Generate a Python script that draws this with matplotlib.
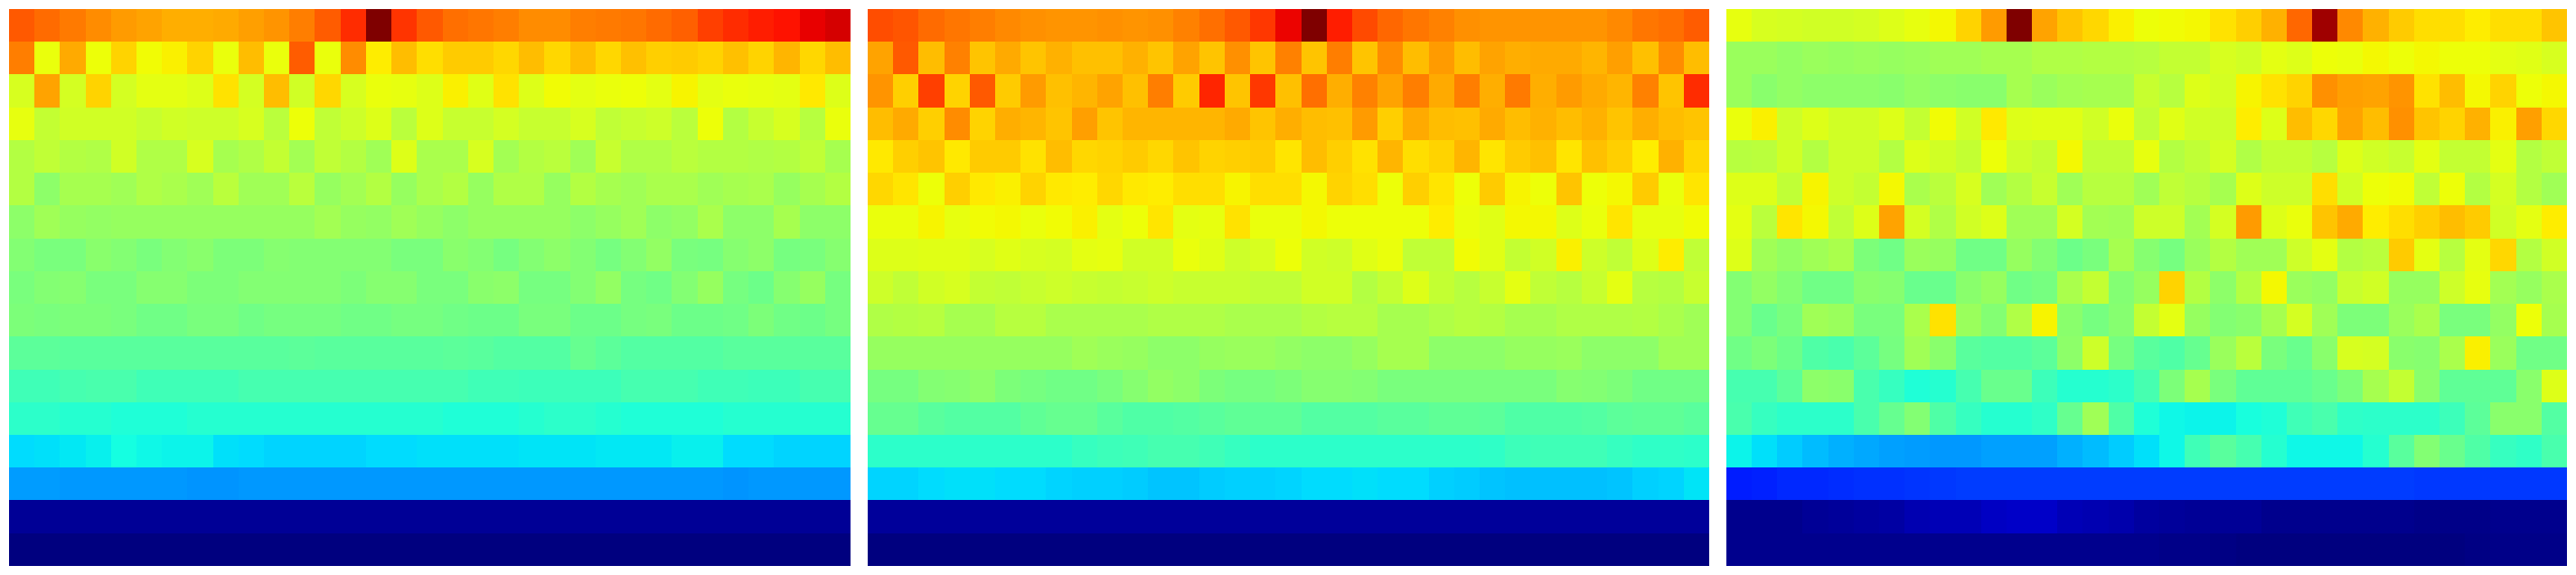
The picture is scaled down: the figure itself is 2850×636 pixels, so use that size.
import numpy as np
from matplotlib import pyplot as plt

# values, 0-1000 on the jet scale, top row first
panel_left = [
    [815, 795, 780, 760, 745, 735, 725, 725, 730, 740, 750, 775, 810, 860, 1000, 855, 815, 790, 785, 775, 760, 760, 775, 780, 785, 795, 805, 840, 860, 875, 890, 910, 925],
    [775, 634, 730, 638, 685, 642, 654, 685, 634, 710, 634, 810, 634, 760, 658, 710, 675, 695, 695, 680, 710, 680, 710, 680, 705, 690, 695, 685, 705, 685, 715, 680, 710],
    [613, 735, 608, 685, 608, 626, 626, 618, 670, 608, 710, 603, 680, 613, 634, 630, 618, 654, 622, 670, 618, 642, 626, 634, 638, 626, 650, 626, 634, 630, 626, 662, 618],
    [630, 588, 603, 603, 603, 593, 603, 598, 598, 613, 578, 638, 583, 598, 618, 578, 618, 593, 593, 608, 593, 593, 613, 583, 593, 598, 578, 638, 568, 593, 613, 573, 634],
    [568, 583, 568, 563, 603, 563, 563, 613, 553, 563, 588, 548, 583, 568, 543, 618, 558, 558, 613, 548, 568, 578, 543, 593, 563, 563, 578, 568, 568, 563, 568, 583, 553],
    [568, 523, 553, 553, 543, 563, 558, 543, 578, 543, 543, 578, 533, 548, 568, 533, 558, 568, 533, 563, 563, 533, 568, 553, 543, 558, 558, 543, 553, 558, 533, 553, 568],
    [523, 543, 533, 528, 533, 533, 533, 533, 533, 533, 533, 533, 548, 533, 528, 543, 533, 523, 533, 533, 533, 533, 523, 533, 543, 523, 528, 558, 523, 523, 553, 523, 523],
    [508, 498, 498, 518, 508, 498, 508, 518, 503, 503, 513, 508, 508, 508, 508, 498, 498, 518, 508, 493, 508, 523, 508, 493, 508, 528, 498, 493, 513, 523, 493, 498, 513],
    [498, 508, 513, 498, 498, 513, 513, 503, 503, 508, 508, 508, 508, 503, 513, 513, 498, 498, 518, 523, 493, 493, 508, 528, 493, 488, 508, 533, 493, 483, 513, 533, 493],
    [503, 498, 503, 503, 498, 488, 488, 498, 498, 488, 493, 493, 493, 488, 488, 493, 493, 488, 483, 483, 498, 498, 483, 483, 493, 498, 483, 483, 488, 503, 488, 483, 493],
    [463, 463, 458, 458, 458, 458, 458, 458, 458, 458, 458, 463, 458, 458, 458, 458, 458, 463, 458, 452, 452, 452, 473, 463, 452, 452, 452, 452, 458, 458, 458, 458, 458],
    [428, 428, 434, 440, 440, 428, 428, 428, 428, 434, 434, 434, 434, 434, 434, 434, 434, 434, 428, 428, 422, 422, 422, 422, 434, 434, 434, 428, 428, 422, 422, 434, 434],
    [404, 404, 398, 398, 390, 390, 390, 398, 398, 398, 398, 398, 398, 398, 398, 398, 398, 390, 390, 390, 398, 404, 404, 398, 390, 390, 390, 390, 398, 398, 398, 398, 398],
    [340, 345, 355, 360, 375, 370, 365, 365, 345, 340, 335, 335, 335, 335, 340, 340, 345, 345, 345, 345, 350, 350, 350, 355, 355, 355, 360, 360, 340, 340, 335, 335, 335],
    [280, 280, 275, 275, 275, 275, 275, 270, 270, 275, 275, 275, 275, 275, 275, 275, 275, 275, 275, 275, 275, 275, 275, 275, 275, 275, 275, 275, 270, 275, 275, 275, 275],
    [20, 20, 20, 20, 20, 20, 20, 20, 20, 20, 20, 20, 20, 20, 20, 20, 20, 20, 20, 20, 20, 20, 20, 20, 20, 20, 20, 20, 20, 20, 20, 20, 20],
    [0, 0, 0, 0, 0, 0, 0, 0, 0, 0, 0, 0, 0, 0, 0, 0, 0, 0, 0, 0, 0, 0, 0, 0, 0, 0, 0, 0, 0, 0, 0, 0, 0],
]

panel_middle = [
    [825, 820, 795, 785, 775, 765, 755, 750, 750, 755, 750, 755, 770, 790, 815, 850, 905, 1000, 875, 830, 800, 785, 770, 755, 750, 750, 750, 750, 750, 765, 785, 790, 810],
    [735, 815, 710, 770, 700, 730, 700, 720, 705, 705, 720, 700, 735, 700, 755, 700, 770, 700, 775, 700, 760, 710, 745, 710, 735, 725, 730, 730, 715, 740, 705, 760, 710],
    [750, 690, 840, 685, 815, 695, 745, 705, 715, 735, 705, 775, 695, 870, 700, 850, 705, 790, 725, 770, 735, 775, 730, 775, 725, 780, 725, 745, 730, 715, 770, 700, 860],
    [710, 730, 690, 760, 685, 725, 715, 700, 740, 700, 715, 715, 715, 715, 730, 700, 725, 710, 705, 745, 690, 730, 710, 705, 730, 710, 720, 710, 720, 700, 725, 710, 700],
    [662, 690, 700, 662, 695, 695, 670, 710, 680, 685, 695, 680, 700, 685, 690, 695, 666, 710, 690, 670, 715, 675, 685, 715, 666, 695, 705, 666, 705, 690, 658, 720, 680],
    [680, 666, 638, 690, 662, 654, 685, 662, 658, 680, 662, 658, 675, 675, 650, 675, 675, 646, 685, 675, 638, 690, 666, 638, 695, 650, 638, 700, 638, 646, 695, 634, 666],
    [634, 634, 650, 630, 642, 646, 634, 642, 654, 626, 638, 666, 626, 630, 670, 634, 634, 646, 638, 638, 638, 638, 658, 634, 622, 646, 646, 618, 634, 666, 630, 630, 642],
    [618, 618, 622, 622, 613, 622, 613, 608, 626, 630, 603, 603, 634, 622, 598, 613, 638, 603, 598, 622, 634, 583, 583, 642, 622, 588, 603, 654, 598, 583, 618, 658, 583],
    [598, 583, 603, 613, 588, 583, 593, 598, 593, 588, 593, 598, 593, 593, 593, 583, 583, 603, 603, 568, 588, 618, 588, 573, 593, 626, 583, 573, 593, 626, 573, 568, 593],
    [563, 568, 573, 553, 553, 573, 573, 558, 558, 558, 558, 563, 563, 563, 558, 558, 558, 568, 573, 573, 553, 553, 563, 573, 568, 553, 553, 563, 563, 563, 568, 558, 543],
    [533, 533, 533, 533, 533, 533, 533, 533, 543, 538, 533, 523, 523, 533, 538, 538, 528, 523, 523, 533, 553, 553, 523, 523, 523, 533, 533, 538, 523, 523, 523, 543, 543],
    [493, 493, 508, 513, 523, 503, 493, 488, 488, 498, 513, 528, 523, 503, 493, 493, 503, 513, 513, 508, 498, 498, 498, 498, 498, 498, 498, 513, 508, 503, 488, 488, 488],
    [473, 473, 458, 452, 452, 452, 468, 473, 473, 458, 446, 446, 452, 458, 468, 468, 468, 452, 452, 452, 458, 458, 468, 468, 463, 446, 446, 446, 452, 463, 468, 468, 458],
    [404, 404, 404, 404, 404, 404, 404, 404, 416, 422, 428, 434, 434, 428, 416, 404, 404, 404, 404, 404, 404, 404, 404, 404, 410, 422, 428, 428, 428, 416, 410, 410, 404],
    [335, 335, 340, 345, 345, 340, 340, 335, 330, 330, 325, 320, 320, 325, 330, 330, 335, 340, 340, 345, 340, 340, 330, 325, 320, 315, 315, 315, 315, 320, 330, 335, 350],
    [25, 25, 25, 25, 25, 25, 25, 25, 25, 25, 25, 25, 25, 25, 25, 25, 25, 25, 25, 25, 25, 25, 25, 25, 25, 25, 25, 25, 25, 25, 25, 25, 25],
    [0, 0, 0, 0, 0, 0, 0, 0, 0, 0, 0, 0, 0, 0, 0, 0, 0, 0, 0, 0, 0, 0, 0, 0, 0, 0, 0, 0, 0, 0, 0, 0, 0],
]

panel_right = [
    [630, 613, 608, 603, 603, 608, 618, 630, 646, 685, 745, 1000, 735, 700, 680, 654, 638, 642, 646, 670, 690, 720, 800, 970, 765, 720, 695, 675, 675, 658, 675, 675, 700],
    [538, 538, 528, 538, 533, 538, 533, 538, 543, 543, 553, 553, 563, 563, 568, 568, 573, 588, 588, 613, 603, 626, 618, 638, 634, 646, 638, 646, 638, 638, 626, 622, 613],
    [538, 518, 528, 523, 523, 523, 518, 528, 523, 518, 518, 553, 538, 548, 553, 553, 593, 573, 618, 608, 650, 670, 685, 755, 740, 735, 750, 670, 710, 646, 685, 638, 646],
    [634, 654, 598, 618, 603, 603, 618, 588, 642, 603, 662, 618, 622, 622, 603, 634, 583, 622, 603, 598, 658, 618, 710, 680, 735, 710, 755, 700, 685, 720, 654, 740, 680],
    [573, 578, 603, 568, 598, 598, 568, 618, 603, 588, 638, 598, 588, 646, 583, 583, 630, 568, 583, 608, 563, 588, 588, 573, 618, 603, 593, 626, 588, 588, 626, 568, 583],
    [618, 618, 583, 650, 598, 588, 646, 558, 578, 613, 543, 568, 593, 543, 573, 573, 543, 583, 573, 553, 618, 598, 598, 675, 603, 638, 642, 583, 638, 568, 608, 568, 543],
    [626, 578, 666, 646, 583, 618, 735, 608, 563, 603, 618, 543, 543, 608, 548, 543, 598, 598, 548, 608, 745, 618, 634, 700, 730, 658, 675, 690, 710, 695, 603, 626, 658],
    [618, 543, 528, 543, 558, 503, 488, 538, 533, 488, 488, 533, 508, 483, 498, 553, 513, 493, 538, 568, 543, 543, 598, 626, 568, 578, 695, 626, 573, 626, 680, 568, 603],
    [508, 528, 508, 488, 488, 518, 513, 478, 478, 518, 533, 488, 493, 558, 588, 508, 533, 685, 568, 523, 568, 646, 538, 528, 593, 603, 533, 533, 598, 630, 548, 533, 558],
    [508, 478, 498, 543, 538, 498, 498, 558, 670, 538, 508, 563, 650, 518, 493, 513, 588, 626, 533, 508, 518, 553, 608, 543, 503, 503, 538, 558, 498, 498, 528, 638, 553],
    [488, 503, 483, 446, 440, 463, 493, 543, 518, 458, 452, 452, 463, 523, 598, 493, 458, 446, 473, 538, 578, 498, 478, 518, 613, 608, 518, 513, 558, 654, 538, 488, 488],
    [434, 434, 463, 523, 518, 440, 416, 390, 398, 434, 478, 478, 422, 398, 398, 404, 434, 503, 553, 498, 468, 468, 468, 478, 503, 553, 588, 518, 468, 468, 468, 518, 618],
    [440, 416, 404, 404, 404, 440, 473, 508, 446, 416, 398, 398, 410, 473, 543, 446, 390, 370, 365, 365, 380, 390, 428, 440, 410, 404, 404, 404, 422, 463, 518, 518, 452],
    [365, 345, 325, 310, 300, 290, 285, 280, 275, 275, 285, 285, 285, 300, 310, 325, 345, 370, 428, 458, 434, 398, 370, 370, 370, 398, 458, 508, 478, 446, 416, 410, 440],
    [155, 160, 165, 165, 170, 175, 175, 178, 180, 185, 185, 185, 185, 185, 185, 185, 185, 185, 185, 185, 185, 185, 185, 185, 185, 185, 185, 182, 182, 182, 182, 182, 182],
    [15, 15, 15, 20, 25, 30, 35, 45, 50, 50, 60, 65, 65, 50, 45, 40, 30, 25, 20, 20, 20, 15, 15, 15, 15, 15, 15, 10, 10, 10, 15, 15, 15],
    [12, 12, 12, 12, 12, 12, 12, 12, 12, 12, 12, 12, 12, 12, 12, 12, 12, 10, 8, 4, 3, 3, 3, 3, 3, 3, 3, 3, 3, 5, 8, 8, 10],
]

panels = [panel_left, panel_middle, panel_right]
lefts = [10, 960, 1910]  # pixels

fig = plt.figure(figsize=(28.5, 6.36), dpi=100)
for data, left in zip(panels, lefts):
    ax = fig.add_axes([left / 2850, 10 / 636, 930 / 2850, 616 / 636])
    ax.imshow(np.array(data), cmap="jet", vmin=0, vmax=1000, aspect="auto", interpolation="nearest")
    ax.axis("off")

fig.savefig("out.png", dpi=100)
